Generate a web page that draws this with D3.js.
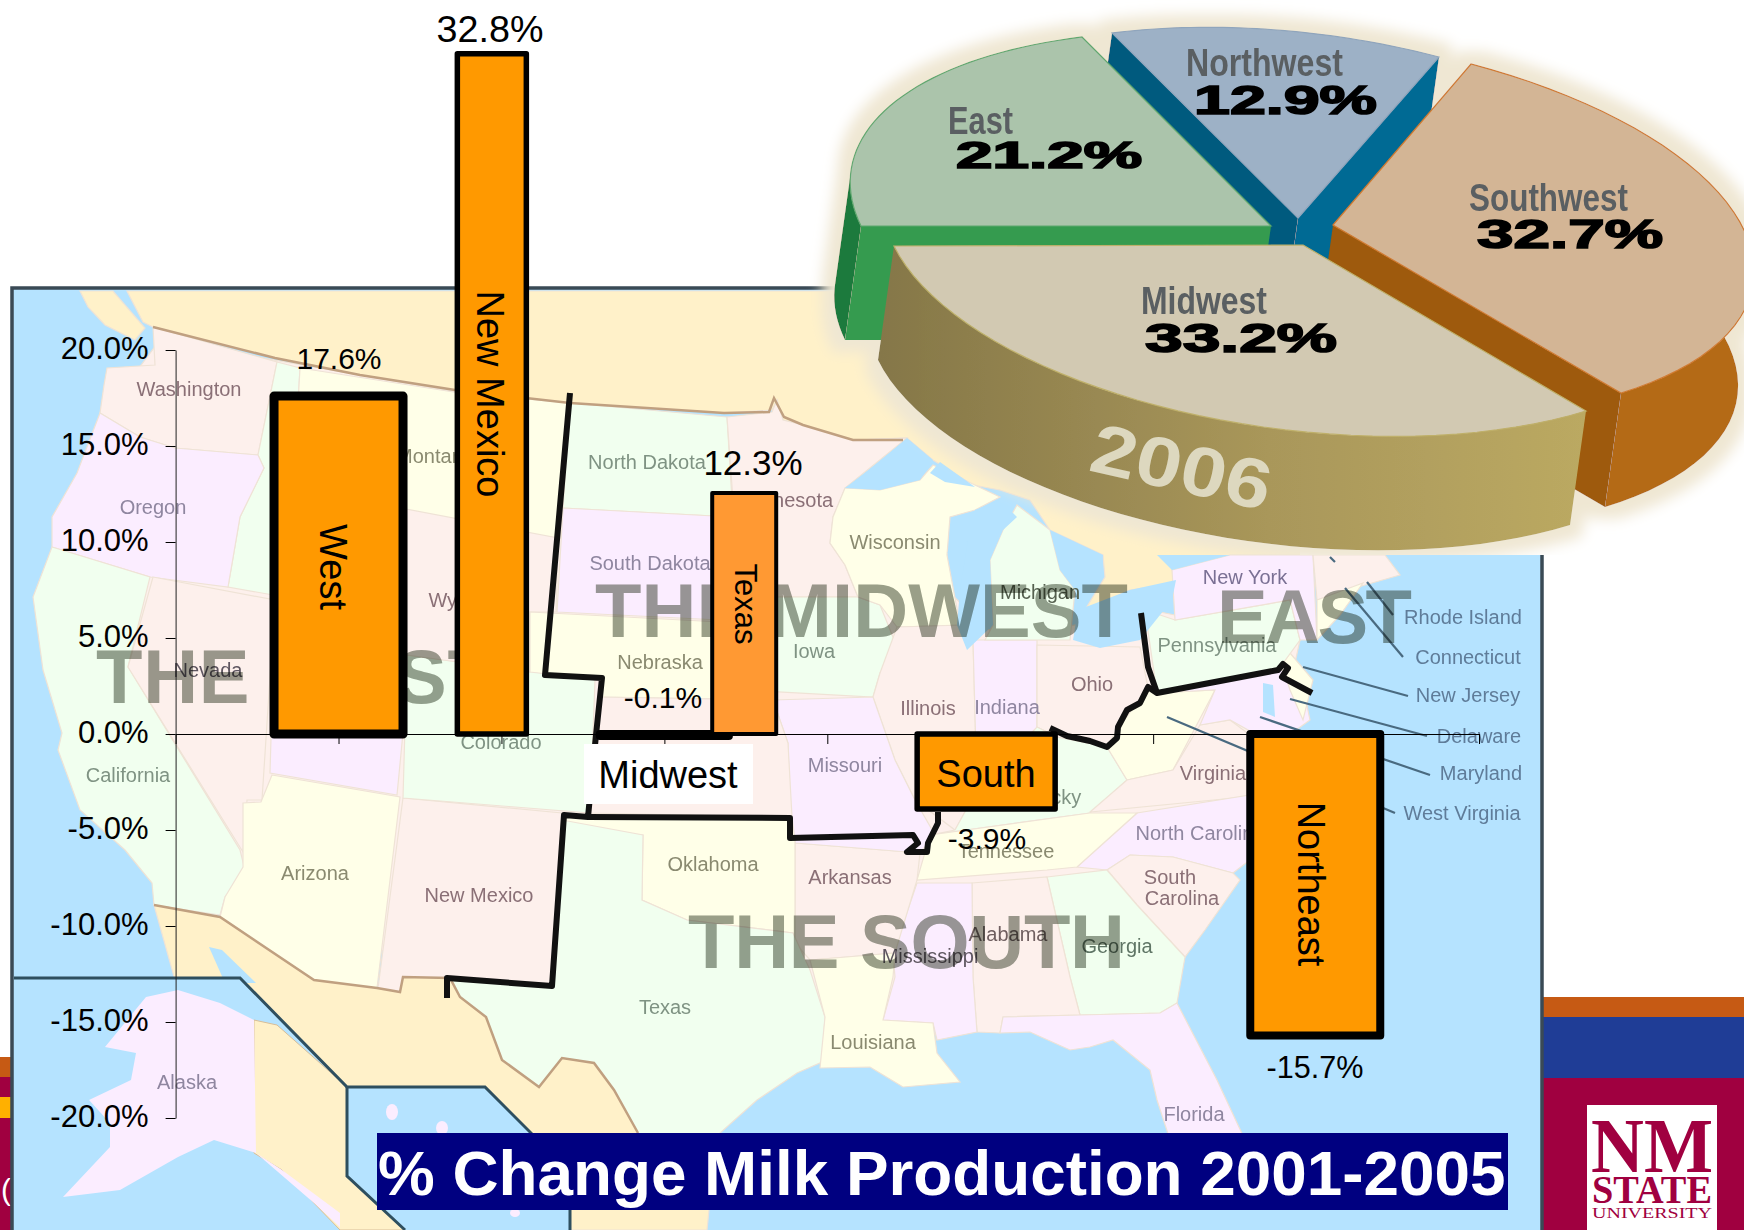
<!DOCTYPE html>
<html>
<head>
<meta charset="utf-8">
<script src="https://cdn.jsdelivr.net/npm/d3@7"></script>
<style>
    html, body { margin: 0; padding: 0; background: #fff; }
    svg { display: block; }
    text { font-family: "Liberation Sans", Arial, sans-serif; }
</style>
</head>
<body>
<div id="chart"></div>
<script>
// bar chart values
const regions = ["West", "New Mexico", "Midwest", "Texas", "South", "Northeast"];
const changes = [17.6, 32.8, -0.1, 12.3, -3.9, -15.7];
const yTicks = [20, 15, 10, 5, 0, -5, -10, -15, -20];
const slotTicks = [0, 1, 2, 3, 4, 5, 6, 7, 8];
const chartTitle = "% Change Milk Production 2001-2005";

// pie values
const pieRegions = ["Midwest", "East", "Northwest", "Southwest"];
const pieShares = [33.2, 21.2, 12.9, 32.7];
const pieYear = "2006";

// how each bar sits on the slide. The bars were dragged by hand in the original
const barLayout = {
    "West":       { slot: 1.0,   w: 129, stretch: 1,    sw: 9,   fill: "#FF9900", font: 38, tag: [320, 567, 90], val: [339, 369, 30] },
    "New Mexico": { slot: 1.941, w: 69,  stretch: 1.08, sw: 5.5, fill: "#FF9900", font: 38, tag: [477, 394, 90], val: [490, 42, 37.7] },
    "Midwest":    { slot: 3.0,   w: 129, stretch: 1,    sw: 8,   fill: "#FF9900", font: 38, tag: [668, 788, 0],  val: [663, 708, 30] },
    "Texas":      { slot: 3.49,  w: 64,  stretch: 1.02, sw: 4,   fill: "#FF9933", font: 31, tag: [735, 604, 90], val: [753, 475, 35] },
    "South":      { slot: 4.975, w: 138, stretch: 1,    sw: 5.5, fill: "#FF9900", font: 38, tag: [986, 787, 0],  val: [987, 849, 30] },
    "Northeast":  { slot: 6.995, w: 130, stretch: 1,    sw: 8,   fill: "#FF9900", font: 38, tag: [1298, 884, 90], val: [1315, 1078, 30.6] }
};

// where each exploded slice lands: apex and the two rim corners, on the slide
const pieAnchors = {
    "Midwest":   { apex: [1303, 245], a: [1586, 411], b: [894, 246],  fill: "#D2C9B2", edge: "#BFB06A" },
    "East":      { apex: [1271, 226], a: [861, 226],  b: [1082, 37],  fill: "#ABC4AB", edge: "#5FA86F" },
    "Northwest": { apex: [1298, 218], a: [1112, 33],  b: [1439, 57],  fill: "#9DB1C6", edge: "#8FA5BC" },
    "Southwest": { apex: [1333, 225], a: [1471, 64],  b: [1621, 393], fill: "#D3B595", edge: "#D07A30" }
};
const pieDrop = [-16, 114];
const pieText = {
    "Midwest":   { name: [1141, 314, 126, 38], pct: [1145, 352, 192, 40] },
    "East":      { name: [948, 134, 65, 38],   pct: [956, 168, 186, 36] },
    "Northwest": { name: [1186, 76, 157, 38],  pct: [1194, 114, 183, 40] },
    "Southwest": { name: [1469, 211, 159, 38], pct: [1477, 248, 186, 40] }
};

// basemap outlines, traced on the slide in page pixels (background art, not data)
const PINK = "#FDF0EC", LILAC = "#FBEDFF", MINT = "#F1FFEF", CREAM = "#FFFFE8", BUFF = "#FFF1C9";
const landShapes = [
    [BUFF, [[80,291],[113,291],[145,328],[135,340],[105,325],[88,307]]],
    [BUFF, [[127,291],[1544,291],[1544,520],[1313,555],[1230,555],[1172,570],[1176,583],[1130,590],[1085,610],[1105,577],[1103,555],[1050,530],[1030,500],[1000,490],[973,485],[933,460],[907,438],[853,440],[803,425],[783,420],[777,400],[772,410],[724,413],[570,403],[455,390],[360,375],[275,358],[153,327],[143,322]]],
    [BUFF, [[154,905],[220,917],[314,980],[377,988],[400,992],[403,977],[450,978],[460,997],[486,1017],[502,1060],[539,1087],[562,1058],[594,1063],[614,1090],[638,1133],[640,1200],[710,1200],[707,1230],[170,1230],[175,980]]],
    // underlay so no sea shows between neighbouring states
    [PINK, [[160,340],[560,410],[840,490],[1000,640],[1150,610],[1300,640],[1265,800],[1185,957],[1080,1013],[825,1017],[540,985],[220,915],[128,667],[100,420]]],
    [PINK, [[153,327],[277,362],[258,455],[175,448],[140,437],[100,413],[104,385],[107,368],[155,365]]],
    [MINT, [[277,362],[300,368],[296,440],[320,520],[330,605],[228,587],[240,517],[264,468],[258,455]]],
    [LILAC, [[100,413],[140,437],[175,448],[258,455],[264,468],[240,517],[228,587],[150,577],[52,547],[52,517],[77,473]]],
    [MINT, [[52,547],[150,577],[128,667],[240,850],[245,870],[225,897],[220,915],[154,905],[152,883],[125,850],[80,810],[58,750],[62,733],[43,670],[33,597]]],
    [PINK, [[153,577],[275,600],[262,800],[247,800],[243,852],[128,667]]],
    [LILAC, [[275,600],[340,610],[340,640],[410,660],[397,795],[270,773]]],
    [CREAM, [[272,775],[400,797],[377,988],[314,980],[220,917],[225,897],[243,867],[243,803],[261,802]]],
    [PINK, [[403,798],[562,813],[551,985],[450,978],[403,977],[400,992],[378,988]]],
    [MINT, [[407,655],[535,672],[595,680],[590,813],[403,798]]],
    [CREAM, [[300,368],[460,393],[570,403],[560,538],[420,525],[390,500],[335,500],[325,440],[296,440]]],
    [PINK, [[385,505],[558,538],[556,612],[530,612],[530,672],[407,655]]],
    [MINT, [[570,403],[727,417],[733,517],[563,508]]],
    [LILAC, [[563,508],[733,517],[740,597],[720,620],[557,612]]],
    [CREAM, [[530,612],[720,622],[745,690],[773,700],[600,697],[600,680],[530,672]]],
    [PINK, [[727,417],[772,412],[777,400],[783,420],[803,425],[853,440],[907,438],[845,488],[833,517],[830,543],[845,565],[858,597],[740,597]]],
    [MINT, [[740,597],[858,597],[880,605],[897,647],[880,673],[873,697],[745,690]]],
    [CREAM, [[845,488],[880,490],[920,480],[933,465],[1000,497],[975,510],[950,517],[947,555],[960,625],[897,627],[880,605],[858,597],[845,565],[830,543],[833,517]]],
    [PINK, [[897,627],[965,625],[973,640],[977,790],[955,830],[915,800],[895,760],[873,697],[880,673]]],
    [LILAC, [[973,640],[1037,640],[1037,730],[977,790]]],
    [PINK, [[1037,645],[1140,647],[1148,688],[1117,730],[1107,747],[1057,737],[1037,727]]],
    [MINT, [[1017,505],[1050,530],[1060,570],[1075,590],[1070,640],[985,640],[993,625],[990,560],[1003,530]]],
    [MINT, [[977,790],[1037,727],[1057,737],[1107,747],[1127,780],[1090,813],[930,835],[955,830]]],
    [CREAM, [[1107,747],[1117,730],[1148,688],[1157,693],[1215,690],[1173,770],[1127,780]]],
    [PINK, [[1090,812],[1127,780],[1173,770],[1200,725],[1230,720],[1250,735],[1265,795]]],
    [LILAC, [[1157,693],[1278,670],[1300,672],[1310,720],[1275,745],[1230,720],[1200,725],[1215,690]]],
    [CREAM, [[1290,653],[1313,680],[1303,720],[1290,690],[1282,665]]],
    [MINT, [[1145,610],[1175,620],[1290,600],[1300,640],[1278,670],[1157,693]]],
    [LILAC, [[1172,570],[1230,555],[1313,555],[1317,640],[1300,640],[1290,600],[1175,620]]],
    [PINK, [[1313,555],[1385,555],[1400,575],[1365,585],[1317,600]]],
    [CREAM, [[1317,600],[1363,583],[1340,615],[1317,640]]],
    [LILAC, [[1077,867],[1137,813],[1250,795],[1250,860],[1233,873],[1173,857],[1130,855],[1107,870]]],
    [CREAM, [[930,835],[1090,813],[1137,813],[1077,867],[1047,870],[917,880]]],
    [PINK, [[1107,870],[1130,855],[1173,857],[1233,873],[1240,880],[1205,930],[1185,957],[1137,905]]],
    [MINT, [[1047,877],[1107,870],[1137,905],[1185,957],[1177,1003],[1160,1013],[1080,1015],[1070,977]]],
    [PINK, [[972,883],[1047,877],[1070,977],[1080,1015],[1003,1017],[1000,1033],[977,1032],[973,977]]],
    [LILAC, [[917,883],[972,883],[973,977],[977,1032],[937,1040],[933,1023],[883,1020],[895,977],[893,953]]],
    [PINK, [[795,843],[920,853],[917,880],[895,953],[810,960],[795,943]]],
    [LILAC, [[773,700],[873,697],[895,760],[915,800],[935,835],[920,853],[795,843],[790,817],[788,743]]],
    [PINK, [[600,697],[773,700],[788,743],[792,817],[587,813]]],
    [CREAM, [[565,815],[792,817],[795,840],[795,943],[793,933],[687,920],[642,900],[643,835],[568,837]]],
    [MINT, [[562,820],[643,835],[642,900],[687,920],[793,933],[810,970],[825,1017],[822,1062],[797,1073],[757,1100],[720,1133],[710,1200],[640,1200],[638,1133],[614,1090],[594,1063],[562,1058],[539,1087],[502,1060],[486,1017],[460,997],[450,980],[551,985]]],
    [CREAM, [[810,960],[895,953],[893,977],[883,1020],[933,1023],[937,1053],[960,1082],[903,1087],[870,1067],[820,1068],[825,1017]]],
    [LILAC, [[1003,1017],[1080,1015],[1160,1013],[1177,1003],[1217,1080],[1245,1140],[1170,1140],[1157,1100],[1150,1070],[1113,1040],[1090,1047],[1070,1050],[1030,1032],[1000,1033]]]
];
const lakeShapes = [
    [[907,438],[933,460],[920,480],[880,490],[845,488],[873,467]],
    [[930,473],[940,462],[975,487],[945,482]],
    [[1000,500],[1017,517],[1003,530],[990,560],[993,625],[967,650],[957,625],[960,590],[968,540],[947,553],[975,510]],
    [[1050,530],[1103,555],[1100,577],[1080,600],[1075,590],[1060,570]],
    [[1073,640],[1078,610],[1130,590],[1176,580],[1172,600],[1140,640],[1100,648]],
    [[1157,555],[1230,555],[1172,570]],
    [[1263,683],[1273,685],[1275,717],[1263,712]],
    [[209,947],[222,950],[256,983],[225,983]]
];
const insetYellow = [[254,1020],[277,1025],[347,1087],[347,1176],[405,1230],[340,1230],[282,1170],[254,1153]];
const insetSea = [[14,978],[240,978],[347,1087],[485,1087],[570,1170],[570,1230],[14,1230]];
const alaskaShape = [[178,990],[146,997],[105,1047],[136,1053],[131,1080],[89,1100],[110,1123],[110,1147],[63,1197],[120,1190],[178,1157],[214,1140],[256,1153],[282,1170],[340,1213],[340,1227],[314,1203],[256,1153],[254,1020],[220,1003]];
const insetLines = [
    [[14,978],[240,978],[347,1087],[485,1087],[570,1172],[570,1230]],
    [[347,1087],[347,1176],[405,1230]]
];
const borderLines = [
    [[153,327],[275,358],[360,375],[455,390],[570,403],[724,413],[769,412],[774,398],[784,417],[803,425],[853,440],[903,440]],
    [[154,905],[220,917],[314,980],[377,988],[400,992],[403,977],[450,978],[460,997],[486,1017],[502,1060],[539,1087],[562,1058],[594,1063],[614,1090],[638,1133]]
];
const leaderLines = [
    [[1330,557],[1335,562]],
    [[1367,582],[1393,615]],
    [[1345,588],[1403,657]],
    [[1303,667],[1408,696]],
    [[1290,699],[1427,736]],
    [[1260,717],[1430,775]],
    [[1167,717],[1395,813]]
];
const regionDivider = [
    [[570,393],[545,675],[602,678],[596,735],[588,817],[564,815],[552,986],[447,978],[447,998]],
    [[588,817],[790,818],[790,838],[913,835],[918,843],[907,852],[927,852],[928,843],[938,823],[938,812]],
    [[1050,728],[1067,736],[1090,741],[1107,747],[1117,738],[1118,727],[1127,710],[1140,703],[1148,687],[1157,693],[1278,670],[1283,664],[1288,668],[1282,677],[1312,693]],
    [[1141,613],[1148,667],[1157,693]]
];
const stateNames = [
    ["Washington",189,389,"#8A6F76"],["Oregon",153,507,"#8F86A0"],["Montana",435,456,"#8A8A70"],["Wyoming",470,600,"#8A6F76"],
    ["Nevada",208,670,"#5E5660"],["California",128,775,"#7F9383"],["Colorado",501,742,"#7F9383"],["Arizona",315,873,"#8A8A70"],
    ["New Mexico",479,895,"#8A6F76"],["Texas",665,1007,"#7F9383"],["Oklahoma",713,864,"#8A8A70"],["Arkansas",850,877,"#8A6F76"],
    ["Louisiana",873,1042,"#8A8A70"],["Missouri",845,765,"#8F86A0"],["Mississippi",930,956,"#5E5660"],["Alabama",1008,934,"#6F5F60"],
    ["Georgia",1117,946,"#5F7565"],["South",1170,877,"#8A6F76"],["Carolina",1182,898,"#8A6F76"],["Florida",1194,1114,"#8F86A0"],
    ["North Carolina",1200,833,"#8F86A0"],["Virginia",1213,773,"#8A6F76"],["Kentucky",1040,797,"#7F9383"],["Tennessee",1006,851,"#8A8A70"],
    ["Illinois",928,708,"#8A6F76"],["Indiana",1007,707,"#8F86A0"],["Ohio",1092,684,"#8A6F76"],["Iowa",814,651,"#7F9383"],
    ["Nebraska",660,662,"#8A8A70"],["South Dakota",650,563,"#8F86A0"],["North Dakota",647,462,"#7F9383"],["Minnesota",787,500,"#8A6F76"],
    ["Wisconsin",895,542,"#8A8A70"],["Michigan",1040,592,"#55604F"],["New York",1245,577,"#7A7094"],["Pennsylvania",1217,645,"#7F9383"],
    ["Rhode Island",1463,617,"#5F7C99"],["Connecticut",1468,657,"#5F7C99"],["New Jersey",1468,695,"#5F7C99"],["Delaware",1479,736,"#5F7C99"],
    ["Maryland",1481,773,"#5F7C99"],["West Virginia",1462,813,"#5F7C99"],["Alaska",187,1082,"#8F86A0"]
];
// big overprinted region names: text, left x, baseline, width
const regionNames = [
    ["THE WEST", 96, 703, 398],
    ["THE MIDWEST", 595, 637, 533],
    ["EAST", 1217, 643, 195],
    ["THE SOUTH", 688, 968, 437]
];

(function () {
    const w = 1744, h = 1230;

    const svg = d3.select("#chart")
        .append("svg")
        .attr("width", w)
        .attr("height", h);

    const defs = svg.append("defs");
    defs.append("filter").attr("id", "soft")
        .append("feGaussianBlur").attr("stdDeviation", 0.55);
    const glow = defs.append("filter").attr("id", "glow")
        .attr("filterUnits", "userSpaceOnUse")
        .attr("x", 780).attr("y", 0).attr("width", 1000).attr("height", 620);
    glow.append("feMorphology").attr("in", "SourceAlpha").attr("operator", "dilate").attr("radius", 12).attr("result", "fat");
    glow.append("feGaussianBlur").attr("in", "fat").attr("stdDeviation", 7).attr("result", "soft");
    glow.append("feFlood").attr("flood-color", "#EFE7D3").attr("result", "cream");
    glow.append("feComposite").attr("in", "cream").attr("in2", "soft").attr("operator", "in").attr("result", "halo");
    const merge = glow.append("feMerge");
    merge.append("feMergeNode").attr("in", "halo");
    merge.append("feMergeNode").attr("in", "SourceGraphic");
    const sideFill = defs.append("linearGradient").attr("id", "midwestSide")
        .attr("gradientUnits", "userSpaceOnUse")
        .attr("x1", 880).attr("x2", 1586).attr("y1", 0).attr("y2", 0);
    sideFill.append("stop").attr("offset", 0).attr("stop-color", "#857748");
    sideFill.append("stop").attr("offset", 0.55).attr("stop-color", "#A9975A");
    sideFill.append("stop").attr("offset", 1).attr("stop-color", "#BBA962");
    defs.append("clipPath").attr("id", "pieCut")
        .append("rect").attr("x", 0).attr("y", 0).attr("width", w).attr("height", 555);

    const outline = d3.line();
    const closed = d3.line().curve(d3.curveLinearClosed);

    // slide bands either side of the map
    const bands = [
        [0, 1057, 12, 20, "#C65A14"], [0, 1077, 12, 20, "#A00040"], [0, 1097, 12, 21, "#FFB000"], [0, 1118, 12, 112, "#A00040"],
        [1542, 997, 202, 20, "#C65A14"], [1542, 1017, 202, 61, "#1F3D96"], [1542, 1078, 202, 152, "#A00040"]
    ];
    svg.append("g").selectAll("rect").data(bands).join("rect")
        .attr("x", d => d[0]).attr("y", d => d[1])
        .attr("width", d => d[2]).attr("height", d => d[3])
        .attr("fill", d => d[4]);
    svg.append("text").attr("x", 1).attr("y", 1200).attr("font-size", 30).attr("fill", "#fff").text("(");

    // NMSU logo
    const logo = svg.append("g").attr("fill", "#A00040");
    logo.append("rect").attr("x", 1587).attr("y", 1105).attr("width", 130).attr("height", 125).attr("fill", "#fff");
    [["NM", 1591, 1172, 122, 78, "bold"], ["STATE", 1592, 1203, 120, 40, "bold"], ["UNIVERSITY", 1592, 1218, 120, 15, "normal"]].forEach(d => {
        logo.append("text").attr("x", d[1]).attr("y", d[2])
            .attr("textLength", d[3]).attr("lengthAdjust", "spacingAndGlyphs")
            .attr("font-size", d[4]).attr("font-weight", d[5])
            .style("font-family", "Liberation Serif").text(d[0]);
    });

    // basemap
    const map = svg.append("g").attr("filter", "url(#soft)");
    map.append("rect").attr("x", 12).attr("y", 288).attr("width", 1530).attr("height", 960).attr("fill", "#B5E3FF");
    map.append("g").selectAll("path").data(landShapes).join("path")
        .attr("d", d => closed(d[1]))
        .attr("fill", d => d[0])
        .attr("stroke", "#EFE3D6")
        .attr("stroke-width", 1.2);
    map.append("g").selectAll("path").data(lakeShapes).join("path")
        .attr("d", closed)
        .attr("fill", "#B5E3FF");
    map.append("path").attr("d", closed(insetSea)).attr("fill", "#B5E3FF");
    map.append("path").attr("d", closed(insetYellow)).attr("fill", BUFF).attr("stroke", "#D8BE98");
    map.append("path").attr("d", closed(alaskaShape)).attr("fill", LILAC);
    [[392, 1112, 6, 8], [442, 1128, 6, 7], [515, 1213, 5, 4]].forEach(d => {
        map.append("ellipse").attr("cx", d[0]).attr("cy", d[1]).attr("rx", d[2]).attr("ry", d[3]).attr("fill", "#FBEDFF");
    });
    map.append("g").selectAll("path").data(borderLines).join("path")
        .attr("d", outline).attr("fill", "none").attr("stroke", "#C0A080").attr("stroke-width", 2.5);
    map.append("g").selectAll("path").data(insetLines).join("path")
        .attr("d", outline).attr("fill", "none").attr("stroke", "#2F4F5F").attr("stroke-width", 3);
    map.append("g").selectAll("path").data(leaderLines).join("path")
        .attr("d", outline).attr("fill", "none").attr("stroke", "#4A6A80").attr("stroke-width", 2.2);
    map.append("g").selectAll("text").data(stateNames).join("text")
        .attr("x", d => d[1]).attr("y", d => d[2] + 7)
        .attr("text-anchor", "middle")
        .attr("font-size", 20)
        .attr("fill", d => d[3])
        .text(d => d[0]);
    map.append("g").selectAll("text").data(regionNames).join("text")
        .attr("x", d => d[1]).attr("y", d => d[2])
        .attr("textLength", d => d[3])
        .attr("lengthAdjust", "spacing")
        .attr("font-size", 76)
        .attr("font-weight", "bold")
        .attr("fill", "#9A9F95")
        .style("mix-blend-mode", "multiply")
        .text(d => d[0]);
    // frame of the map picture
    svg.append("path")
        .attr("d", outline([[12, 1240], [12, 288], [1542, 288], [1542, 1240]]))
        .attr("fill", "none").attr("stroke", "#3A4A55").attr("stroke-width", 3.5);

    svg.append("g").selectAll("path").data(regionDivider).join("path")
        .attr("d", outline)
        .attr("fill", "none")
        .attr("stroke", "#111")
        .attr("stroke-width", 6)
        .attr("stroke-linejoin", "round");

    // bar chart
    const xSlot = d3.scaleLinear().domain([0, 8]).range([175.6, 1479]);
    const y = d3.scaleLinear().domain([-20, 20]).range([1118, 350]);

    const yAxis = svg.append("g")
        .attr("transform", `translate(${xSlot(0)},0)`)
        .call(d3.axisLeft(y)
            .tickValues(yTicks)
            .tickSize(10)
            .tickSizeOuter(0)
            .tickPadding(17)
            .tickFormat(d => d.toFixed(1) + "%"));
    yAxis.selectAll("text")
        .attr("font-size", 31)
        .attr("dy", "0.28em")
        .attr("fill", "#000")
        .style("font-family", "Liberation Sans");
    yAxis.select(".domain").attr("stroke", "#222");

    const xAxis = svg.append("g")
        .attr("transform", `translate(0,${y(0)})`)
        .call(d3.axisBottom(xSlot)
            .tickValues(slotTicks)
            .tickSize(10)
            .tickSizeOuter(0)
            .tickFormat(""));
    xAxis.select(".domain").attr("stroke", "#000");

    const bars = regions.map((name, i) => ({ name, value: changes[i], ...barLayout[name] }));
    const barTop = d => y(Math.max(0, d.value * d.stretch));
    const barBottom = d => y(Math.min(0, d.value * d.stretch));

    svg.append("g").selectAll("rect").data(bars).join("rect")
        .attr("x", d => xSlot(d.slot) - d.w / 2)
        .attr("y", barTop)
        .attr("width", d => d.w)
        .attr("height", d => barBottom(d) - barTop(d))
        .attr("fill", d => d.fill)
        .attr("stroke", "#000")
        .attr("stroke-width", d => d.sw)
        .attr("stroke-linejoin", "round");

    svg.append("g").selectAll("text").data(bars).join("text")
        .attr("x", d => d.val[0])
        .attr("y", d => d.val[1])
        .attr("text-anchor", "middle")
        .attr("font-size", d => d.val[2])
        .text(d => d.value.toFixed(1) + "%");

    svg.append("rect").attr("x", 584).attr("y", 744).attr("width", 169).attr("height", 60).attr("fill", "#fff");

    svg.append("g").selectAll("text").data(bars).join("text")
        .attr("transform", d => `translate(${d.tag[0]},${d.tag[1]}) rotate(${d.tag[2]})`)
        .attr("text-anchor", "middle")
        .attr("font-size", d => d.font)
        .text(d => d.name);

    // title
    svg.append("rect").attr("x", 377).attr("y", 1133).attr("width", 1131).attr("height", 77).attr("fill", "#000080");
    svg.append("text").attr("x", 378).attr("y", 1195)
        .attr("font-size", 63.8)
        .attr("font-weight", "bold")
        .attr("fill", "#fff")
        .text(chartTitle);

    // pie: d3.pie gives the angles, then each slice is sheared onto its anchors
    svg.append("rect").attr("x", 1300).attr("y", 500).attr("width", 444).attr("height", 55).attr("fill", "#fff");

    const slices = d3.pie().sort(null).value(d => d.share)(
        pieRegions.map((name, i) => ({ name, share: pieShares[i] })));

    const sliceGeo = {};
    slices.forEach(s => {
        const an = pieAnchors[s.data.name];
        const t0 = s.startAngle, t1 = s.endAngle, span = t1 - t0;
        const u = [an.a[0] - an.apex[0], an.a[1] - an.apex[1]];
        const v = [an.b[0] - an.apex[0], an.b[1] - an.apex[1]];
        const rimAt = f => {
            const t = t0 + span * f;
            const p = Math.sin(t1 - t) / Math.sin(span);
            const q = Math.sin(t - t0) / Math.sin(span);
            return [an.apex[0] + p * u[0] + q * v[0], an.apex[1] + p * u[1] + q * v[1]];
        };
        sliceGeo[s.data.name] = { an, rimAt, rim: d3.range(41).map(i => rimAt(i / 40)) };
    });

    const dropped = p => [p[0] + pieDrop[0], p[1] + pieDrop[1]];
    const wall = pts => closed(pts.concat(pts.slice().reverse().map(dropped)));

    const pieClip = svg.append("g").attr("clip-path", "url(#pieCut)");
    const pie = pieClip.append("g").attr("filter", "url(#glow)");
    const topFace = g => pie.append("path")
        .attr("d", closed([g.an.apex].concat(g.rim)))
        .attr("fill", g.an.fill)
        .attr("stroke", g.an.edge)
        .attr("stroke-width", 1.2);
    const side = (pts, fill) => pie.append("path").attr("d", wall(pts)).attr("fill", fill);

    const nw = sliceGeo["Northwest"], ea = sliceGeo["East"], sw = sliceGeo["Southwest"], mw = sliceGeo["Midwest"];
    side([nw.an.a, nw.an.apex], "#005A7E");
    side([nw.an.apex, nw.an.b], "#006A94");
    topFace(nw);
    side(ea.rim.slice(0, 10), "#1F7A3E");
    side([ea.an.apex, ea.an.a], "#359B50");
    topFace(ea);
    side(sw.rim.slice(18), "#B46A14");
    side([sw.an.apex, sw.an.b], "#9E5A08");
    topFace(sw);
    side(mw.rim, "url(#midwestSide)");
    topFace(mw);

    slices.forEach(s => {
        const t = pieText[s.data.name];
        pie.append("text").attr("x", t.name[0]).attr("y", t.name[1])
            .attr("textLength", t.name[2]).attr("lengthAdjust", "spacingAndGlyphs")
            .attr("font-size", t.name[3]).attr("font-weight", "bold").attr("fill", "#5A5F62")
            .text(s.data.name);
        pie.append("text").attr("x", t.pct[0]).attr("y", t.pct[1])
            .attr("textLength", t.pct[2]).attr("lengthAdjust", "spacingAndGlyphs")
            .attr("font-size", t.pct[3]).attr("font-weight", "bold")
            .attr("fill", "#000").attr("stroke", "#000").attr("stroke-width", 1.6)
            .text(s.data.share.toFixed(1) + "%");
    });
    pie.append("text")
        .attr("transform", "translate(1087,470) rotate(13)")
        .attr("textLength", 183).attr("lengthAdjust", "spacingAndGlyphs")
        .attr("font-size", 70).attr("font-weight", "bold")
        .attr("fill", "#DDD8BF")
        .text(pieYear);
})()
</script>
</body>
</html>
